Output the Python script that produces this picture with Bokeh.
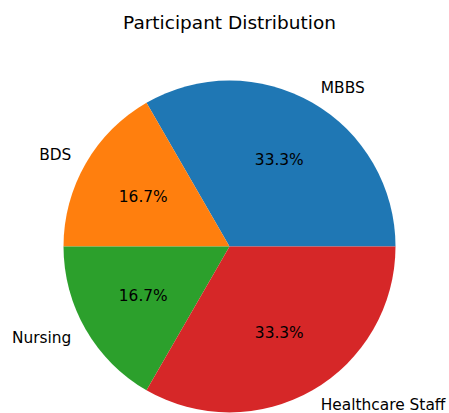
import math
from bokeh.plotting import figure
from bokeh.models import Range1d, ColumnDataSource
from bokeh.core.properties import value
from bokeh.embed import file_html
from bokeh.resources import INLINE

categories = ["MBBS", "BDS", "Nursing", "Healthcare Staff"]
counts = [2, 1, 1, 2]
colors = ["#1f77b4", "#ff7f0e", "#2ca02c", "#d62728"]
title_text = "Participant Distribution"

W, H = 449, 413
p = figure(width=W, height=H, output_backend="svg", toolbar_location=None,
           x_range=Range1d(0, W), y_range=Range1d(0, H),
           min_border=0, outline_line_color=None)
p.axis.visible = False
p.grid.visible = False
p.background_fill_color = "white"
p.border_fill_color = "white"

cx, cy, r = 229, H - 246, 166
total = sum(counts)
starts, ends, mids = [], [], []
acc = 0.0
for c in counts:
    a0 = 2 * math.pi * acc / total
    acc += c
    a1 = 2 * math.pi * acc / total
    starts.append(a0); ends.append(a1); mids.append((a0 + a1) / 2)

src = ColumnDataSource(dict(start=starts, end=ends, color=colors))
p.wedge(x=cx, y=cy, radius=r, start_angle="start", end_angle="end",
        fill_color="color", line_color=None, source=src)

font = value("DejaVu Sans")
lx, ly, lalign, px, py, pct = [], [], [], [], [], []
for c, m in zip(counts, mids):
    lx.append(cx + 1.1 * r * math.cos(m))
    ly.append(cy + 1.1 * r * math.sin(m))
    lalign.append("left" if math.cos(m) > 0 else "right")
    px.append(cx + 0.6 * r * math.cos(m))
    py.append(cy + 0.6 * r * math.sin(m))
    pct.append(f"{100 * c / total:.1f}%")

lsrc = ColumnDataSource(dict(x=lx, y=ly, t=categories, a=lalign))
p.text(x="x", y="y", text="t", text_align="a", text_baseline="middle",
       text_font=font, text_font_size="15.4px", text_color="black", source=lsrc)
psrc = ColumnDataSource(dict(x=px, y=py, t=pct))
p.text(x="x", y="y", text="t", text_align="center", text_baseline="middle",
       text_font=font, text_font_size="15.4px", text_color="black", source=psrc)

p.text(x=[229], y=[H - 22], text=[title_text], text_align="center", text_baseline="middle",
       text_font=font, text_font_size="18.5px", text_color="black")

open("out.html", "w").write(file_html(p, INLINE))
